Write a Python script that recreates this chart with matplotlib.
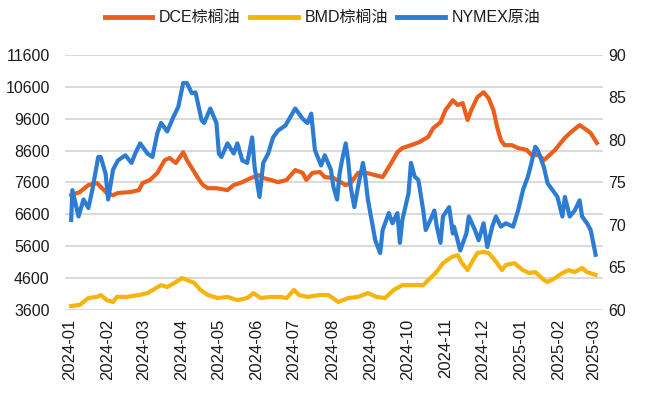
import matplotlib
matplotlib.use("Agg")
import matplotlib.pyplot as plt
import matplotlib.dates as mdates
import pandas as pd

plt.rcParams['font.family'] = ['Liberation Sans', 'Noto Sans CJK SC', 'DejaVu Sans']

# ---------------- data ----------------
nymex_dates = [
    "2024-01-02", "2024-01-03", "2024-01-08", "2024-01-12", "2024-01-16", "2024-01-19",
    "2024-01-24", "2024-01-26", "2024-01-30", "2024-02-01", "2024-02-05", "2024-02-09",
    "2024-02-15", "2024-02-20", "2024-02-23", "2024-02-27", "2024-03-04", "2024-03-08",
    "2024-03-12", "2024-03-15", "2024-03-20", "2024-03-25", "2024-03-29", "2024-04-02",
    "2024-04-05", "2024-04-09", "2024-04-12", "2024-04-17", "2024-04-19", "2024-04-24",
    "2024-04-29", "2024-05-01", "2024-05-03", "2024-05-08", "2024-05-13", "2024-05-16",
    "2024-05-20", "2024-05-24", "2024-05-28", "2024-05-30", "2024-06-03", "2024-06-06",
    "2024-06-10", "2024-06-14", "2024-06-18", "2024-06-24", "2024-06-28", "2024-07-02",
    "2024-07-08", "2024-07-12", "2024-07-15", "2024-07-18", "2024-07-23", "2024-07-26",
    "2024-07-31", "2024-08-02", "2024-08-05", "2024-08-07", "2024-08-09", "2024-08-12",
    "2024-08-14", "2024-08-16", "2024-08-19", "2024-08-22", "2024-08-26", "2024-08-28",
    "2024-08-30", "2024-09-03", "2024-09-05", "2024-09-09", "2024-09-11", "2024-09-16",
    "2024-09-19", "2024-09-23", "2024-09-25", "2024-09-27", "2024-10-02", "2024-10-04",
    "2024-10-07", "2024-10-10", "2024-10-14", "2024-10-16", "2024-10-21", "2024-10-23",
    "2024-10-25", "2024-10-28", "2024-10-30", "2024-11-04", "2024-11-07", "2024-11-08",
    "2024-11-13", "2024-11-18", "2024-11-20", "2024-11-25", "2024-11-28", "2024-12-02",
    "2024-12-05", "2024-12-09", "2024-12-12", "2024-12-16", "2024-12-20", "2024-12-26",
    "2024-12-30", "2025-01-03", "2025-01-07", "2025-01-09", "2025-01-13", "2025-01-15",
    "2025-01-20", "2025-01-23", "2025-01-27", "2025-01-31", "2025-02-04", "2025-02-06",
    "2025-02-10", "2025-02-14", "2025-02-18", "2025-02-20", "2025-02-24", "2025-02-27",
    "2025-03-03",
]
nymex_values = [
    70.6, 74.1, 71.0, 73.0, 72.0, 74.0,
    78.0, 78.0, 76.0, 73.0, 76.5, 77.6,
    78.2, 77.3, 78.4, 79.6, 78.4, 78.0,
    80.8, 82.0, 81.0, 82.7, 83.9, 86.7,
    86.7, 85.5, 85.6, 82.3, 82.0, 83.7,
    82.0, 78.4, 78.0, 79.6, 78.4, 79.6,
    77.6, 77.3, 80.3, 76.8, 73.3, 77.3,
    78.4, 80.3, 81.1, 81.7, 82.7, 83.7,
    82.5, 82.0, 83.1, 78.8, 77.0, 78.2,
    76.5, 74.5, 73.0, 76.0, 77.6, 79.6,
    77.6, 74.5, 72.1, 74.5, 77.3, 75.5,
    73.0, 69.8, 68.2, 66.7, 69.4, 71.4,
    70.2, 71.4, 67.9, 70.6, 73.7, 77.3,
    75.7, 75.3, 71.7, 69.4, 71.0, 71.7,
    69.8, 67.9, 71.0, 72.1, 69.0, 69.8,
    67.0, 69.0, 71.0, 69.4, 68.2, 70.2,
    67.4, 69.8, 71.0, 69.8, 70.2, 69.8,
    71.7, 74.1, 75.7, 76.8, 79.2, 78.8,
    76.8, 74.9, 74.1, 73.3, 71.0, 73.3,
    71.0, 71.7, 72.9, 71.0, 70.2, 69.4,
    66.5,
]

dce_dates = [
    "2024-01-02", "2024-01-09", "2024-01-16", "2024-01-23", "2024-01-26", "2024-01-31",
    "2024-02-05", "2024-02-09", "2024-02-19", "2024-02-26", "2024-02-29", "2024-03-06",
    "2024-03-12", "2024-03-18", "2024-03-22", "2024-03-27", "2024-04-02", "2024-04-05",
    "2024-04-10", "2024-04-15", "2024-04-18", "2024-04-22", "2024-04-29", "2024-05-08",
    "2024-05-13", "2024-05-20", "2024-05-27", "2024-06-03", "2024-06-06", "2024-06-12",
    "2024-06-18", "2024-06-25", "2024-07-02", "2024-07-08", "2024-07-11", "2024-07-16",
    "2024-07-22", "2024-07-26", "2024-08-02", "2024-08-12", "2024-08-16", "2024-08-22",
    "2024-08-29", "2024-09-05", "2024-09-11", "2024-09-18", "2024-09-23", "2024-09-27",
    "2024-10-04", "2024-10-11", "2024-10-18", "2024-10-22", "2024-10-28", "2024-11-01",
    "2024-11-07", "2024-11-11", "2024-11-15", "2024-11-19", "2024-11-22", "2024-11-27",
    "2024-12-02", "2024-12-06", "2024-12-10", "2024-12-13", "2024-12-16", "2024-12-19",
    "2024-12-25", "2024-12-30", "2025-01-06", "2025-01-10", "2025-01-16", "2025-01-20",
    "2025-01-29", "2025-02-06", "2025-02-11", "2025-02-18", "2025-02-24", "2025-02-27",
    "2025-03-04",
]
dce_values = [
    7200, 7300, 7520, 7580, 7460, 7270,
    7200, 7270, 7300, 7360, 7580, 7680,
    7900, 8300, 8370, 8210, 8550, 8300,
    7990, 7680, 7520, 7420, 7420, 7360,
    7520, 7610, 7740, 7830, 7740, 7680,
    7610, 7680, 7990, 7900, 7680, 7900,
    7930, 7770, 7740, 7520, 7580, 7900,
    7900, 7830, 7770, 8210, 8550, 8680,
    8770, 8870, 9030, 9300, 9490, 9870,
    10180, 10030, 10090, 9560, 9870, 10280,
    10430, 10250, 9870, 9340, 8930, 8770,
    8770, 8680, 8620, 8460, 8460, 8300,
    8620, 9000, 9180, 9400, 9240, 9150,
    8840,
]

bmd_dates = [
    "2024-01-02", "2024-01-09", "2024-01-16", "2024-01-23", "2024-01-26", "2024-01-31",
    "2024-02-05", "2024-02-08", "2024-02-16", "2024-02-26", "2024-03-04", "2024-03-11",
    "2024-03-15", "2024-03-20", "2024-03-26", "2024-04-01", "2024-04-05", "2024-04-11",
    "2024-04-16", "2024-04-22", "2024-04-30", "2024-05-08", "2024-05-16", "2024-05-24",
    "2024-05-29", "2024-06-04", "2024-06-12", "2024-06-20", "2024-06-25", "2024-07-01",
    "2024-07-05", "2024-07-12", "2024-07-22", "2024-07-29", "2024-08-06", "2024-08-14",
    "2024-08-22", "2024-08-30", "2024-09-06", "2024-09-13", "2024-09-20", "2024-09-27",
    "2024-10-04", "2024-10-14", "2024-10-18", "2024-10-24", "2024-10-30", "2024-11-06",
    "2024-11-11", "2024-11-14", "2024-11-19", "2024-11-22", "2024-11-27", "2024-12-02",
    "2024-12-06", "2024-12-11", "2024-12-17", "2024-12-20", "2024-12-27", "2025-01-03",
    "2025-01-08", "2025-01-13", "2025-01-20", "2025-01-23", "2025-01-29", "2025-02-04",
    "2025-02-09", "2025-02-14", "2025-02-20", "2025-02-24", "2025-03-03",
]
bmd_values = [
    3725, 3760, 3975, 4010, 4070, 3910,
    3850, 4010, 4010, 4070, 4130, 4290,
    4380, 4320, 4450, 4600, 4540, 4450,
    4230, 4070, 3975, 4010, 3910, 3975,
    4130, 3975, 4010, 4010, 3975, 4230,
    4070, 4010, 4070, 4070, 3850, 3975,
    4010, 4130, 4010, 3975, 4230, 4380,
    4380, 4380, 4540, 4760, 5070, 5260,
    5320, 5100, 4850, 5070, 5390, 5420,
    5390, 5170, 4850, 5010, 5070, 4850,
    4760, 4790, 4540, 4480, 4600, 4760,
    4850, 4790, 4920, 4790, 4700,
]

series_names = ["DCE棕榈油", "BMD棕榈油", "NYMEX原油"]
left_ticks = [3600, 4600, 5600, 6600, 7600, 8600, 9600, 10600, 11600]
right_ticks = [60, 65, 70, 75, 80, 85, 90]
month_ticks = pd.date_range("2024-01-01", "2025-03-01", freq="MS")

# ---------------- styling ----------------
c_dce = "#EB5E1B"
c_bmd = "#F6B40C"
c_nym = "#2C7CD3"
lw = 3.0
txt = "#1c1c1c"

fig = plt.figure(figsize=(6.45, 3.96), dpi=100)
ax = fig.add_axes([0.1008, 0.2172, 0.8341, 0.644])
ax2 = ax.twinx()

l1, = ax.plot(pd.to_datetime(dce_dates), dce_values, color=c_dce, lw=lw,
              solid_joinstyle="round", label=series_names[0])
l2, = ax.plot(pd.to_datetime(bmd_dates), bmd_values, color=c_bmd, lw=lw,
              solid_joinstyle="round", label=series_names[1])
l3, = ax2.plot(pd.to_datetime(nymex_dates), nymex_values, color=c_nym, lw=lw,
               solid_joinstyle="round", label=series_names[2])

ax.set_ylim(left_ticks[0], left_ticks[-1])
ax.set_yticks(left_ticks)
ax2.set_ylim(right_ticks[0], right_ticks[-1])
ax2.set_yticks(right_ticks)

ax.set_xlim(pd.Timestamp("2023-12-28"), pd.Timestamp("2025-03-09"))
ax.set_xticks(month_ticks)
ax.xaxis.set_major_formatter(mdates.DateFormatter("%Y-%m"))

ax.grid(axis="y", color="#d9d9d9", lw=1.4)
ax.set_axisbelow(True)
for a in (ax, ax2):
    for s in a.spines.values():
        s.set_visible(False)

ax.tick_params(axis="y", length=0, pad=11, labelsize=11.5, labelcolor=txt)
ax.tick_params(axis="x", length=0, pad=6, labelsize=12, labelcolor=txt, rotation=90)
ax2.tick_params(axis="y", length=0, pad=4, labelsize=11.5, labelcolor=txt)

leg = fig.legend(handles=[l1, l2, l3], loc="center", bbox_to_anchor=(0.5, 0.955),
                 ncol=3, frameon=False, fontsize=11.5, handlelength=3.0,
                 handletextpad=0.4, columnspacing=0.6)
for h in leg.get_lines():
    h.set_linewidth(3.5)
for t in leg.get_texts():
    t.set_color(txt)

fig.savefig("out.png", dpi=100)
